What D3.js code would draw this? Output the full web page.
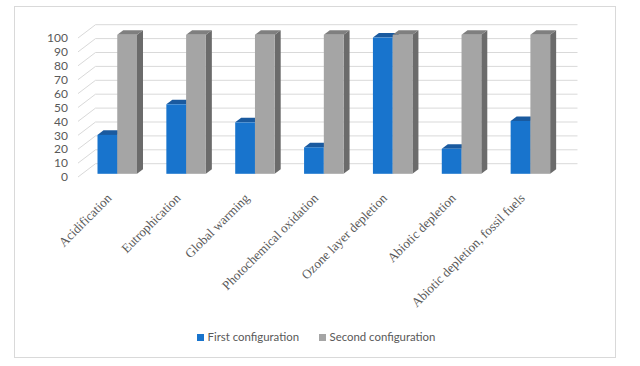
<!DOCTYPE html>
<html>
<head>
<meta charset="utf-8">
<script src="https://cdn.jsdelivr.net/npm/d3@7"></script>
<style>
  body { margin: 0; background: #fff; }
  svg { display: block; }
</style>
</head>
<body>
<svg id="chart" width="640" height="366"></svg>
<script>
const categories = ['Acidification', 'Eutrophication', 'Global warming', 'Photochemical oxidation',
    'Ozone layer depletion', 'Abiotic depletion', 'Abiotic depletion, fossil fuels'];
const series = ['First configuration', 'Second configuration'];
const firstConfig = [28, 50, 37, 19, 98, 18, 38];
const secondConfig = [100, 100, 100, 100, 100, 100, 100];
const yTicks = [0, 10, 20, 30, 40, 50, 60, 70, 80, 90, 100];

const colors = {
    'First configuration': {front: '#1874cd', top: '#1a5a9f', side: '#145ea6'},
    'Second configuration': {front: '#a5a5a5', top: '#7f7f7f', side: '#6b6b6b'}
};
const text_color = '#595959';

const svg = d3.select('#chart');

// outer frame
svg.append('rect')
    .attr('x', 14.5).attr('y', 6.5)
    .attr('width', 601).attr('height', 351)
    .attr('fill', 'white')
    .attr('stroke', '#d9d9d9');

// 3d geometry: front plane, back wall offset, bar depth
const wall = {dx: 17.5, dy: -13.3};
const bar_plane = {dx: 4, dy: -3.2};
const bar_depth = {dx: 6, dy: -4.6};

const y = d3.scaleLinear().domain([0, 100]).range([177, 38]);
const x = d3.scaleBand().domain(categories).range([78, 560]).padding(0);
const xs = d3.scaleBand().domain(series).range([15.5, 15.5 + 39.5]).padding(0);

// gridlines: diagonal on side, then straight across back wall
const grid = svg.append('g');
yTicks.forEach(t => {
    const x0 = x.range()[0];
    const x1 = x.range()[1];
    grid.append('path')
        .attr('d', `M${x0},${y(t)} L${x0 + wall.dx},${y(t) + wall.dy} L${x1 + wall.dx},${y(t) + wall.dy}`)
        .attr('fill', 'none')
        .attr('stroke', '#d9d9d9')
        .attr('stroke-width', 1);
});

// y tick labels
svg.append('g').selectAll('text')
    .data(yTicks)
    .join('text')
    .attr('x', 68)
    .attr('y', d => y(d))
    .attr('dy', '0.35em')
    .attr('text-anchor', 'end')
    .attr('fill', text_color)
    .style('font-family', 'Lato, "Open Sans", sans-serif')
    .style('font-size', '12px')
    .text(d => d);

// bars
const bars = svg.append('g');
categories.forEach((c, i) => {
    const vals = [firstConfig[i], secondConfig[i]];
    series.forEach((s, j) => {
        const v = vals[j];
        const bx = x(c) + xs(s) + bar_plane.dx;
        const bw = xs.bandwidth();
        const top = y(v) + bar_plane.dy;
        const bottom = y(0) + bar_plane.dy;
        const col = colors[s];
        // side face
        bars.append('path')
            .attr('d', `M${bx + bw},${top} L${bx + bw + bar_depth.dx},${top + bar_depth.dy} L${bx + bw + bar_depth.dx},${bottom + bar_depth.dy} L${bx + bw},${bottom} Z`)
            .attr('fill', col.side);
        // top face
        bars.append('path')
            .attr('d', `M${bx},${top} L${bx + bar_depth.dx},${top + bar_depth.dy} L${bx + bw + bar_depth.dx},${top + bar_depth.dy} L${bx + bw},${top} Z`)
            .attr('fill', col.top);
        // front face
        bars.append('rect')
            .attr('x', bx).attr('y', top)
            .attr('width', bw).attr('height', bottom - top)
            .attr('fill', col.front);
    });
});

// category labels
svg.append('g').selectAll('text')
    .data(categories)
    .join('text')
    .attr('transform', d => `translate(${x(d) + x.bandwidth() / 2}, 199) rotate(-45)`)
    .attr('text-anchor', 'end')
    .attr('fill', text_color)
    .style('font-family', '"Liberation Serif", serif')
    .style('font-size', '13px')
    .text(d => d);

// legend
const legend_x = [197, 319];
const legend = svg.append('g');
series.forEach((s, j) => {
    legend.append('rect')
        .attr('x', legend_x[j]).attr('y', 334)
        .attr('width', 7).attr('height', 7)
        .attr('fill', colors[s].front);
    legend.append('text')
        .attr('x', legend_x[j] + 10.5).attr('y', 337.5)
        .attr('dy', '0.35em')
        .attr('fill', text_color)
        .style('font-family', 'Lato, "Open Sans", sans-serif')
        .style('font-size', '11.4px')
        .text(s);
});
</script>
</body>
</html>
